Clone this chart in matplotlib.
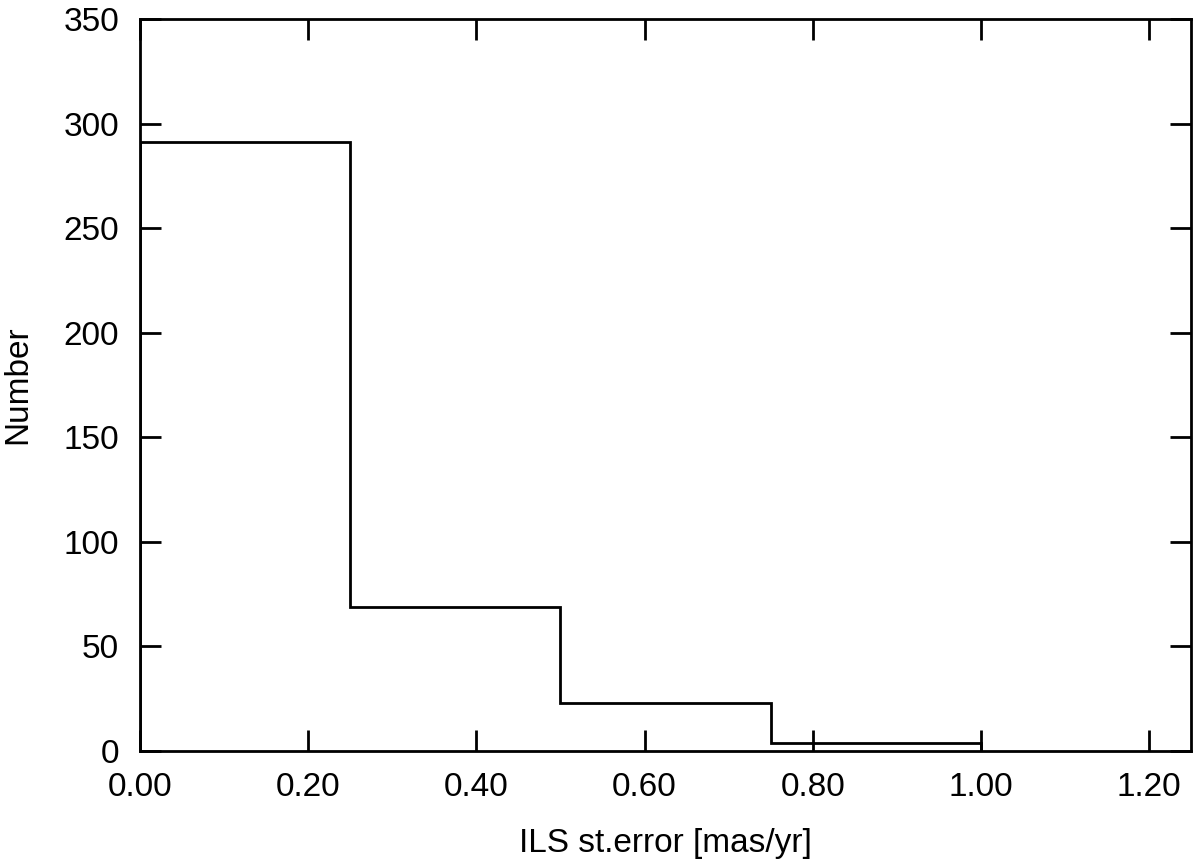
import matplotlib
matplotlib.use('Agg')
import matplotlib.pyplot as plt
import numpy as np
from matplotlib.ticker import FormatStrFormatter

# histogram bins of ILS standard error
bin_edges = [0.0, 0.25, 0.50, 0.75, 1.00]
counts = [291, 69, 23, 4]

x_ticks = [0.0, 0.2, 0.4, 0.6, 0.8, 1.0, 1.2]
y_ticks = [0, 50, 100, 150, 200, 250, 300, 350]

plt.rcParams['font.family'] = ['Liberation Sans', 'DejaVu Sans']

fig = plt.figure(figsize=(12, 8.63), dpi=100)
ax = fig.add_axes([0.1167, 0.1298, 0.8758, 0.8482])

ax.stairs(counts, bin_edges, color='black', linewidth=2)

ax.set_xlim(0, 1.25)
ax.set_ylim(0, 350)
ax.set_xticks(x_ticks)
ax.set_yticks(y_ticks)
ax.xaxis.set_major_formatter(FormatStrFormatter('%.2f'))
ax.tick_params(direction='in', length=15, width=2, labelsize=24,
               top=True, right=True)
ax.tick_params(axis='x', pad=15)
ax.tick_params(axis='y', pad=15)
for s in ax.spines.values():
    s.set_linewidth(2)

ax.set_xlabel('ILS st.error [mas/yr]', fontsize=24, labelpad=18)
ax.set_ylabel('Number', fontsize=24, labelpad=22)

fig.savefig('out.png', dpi=100)
